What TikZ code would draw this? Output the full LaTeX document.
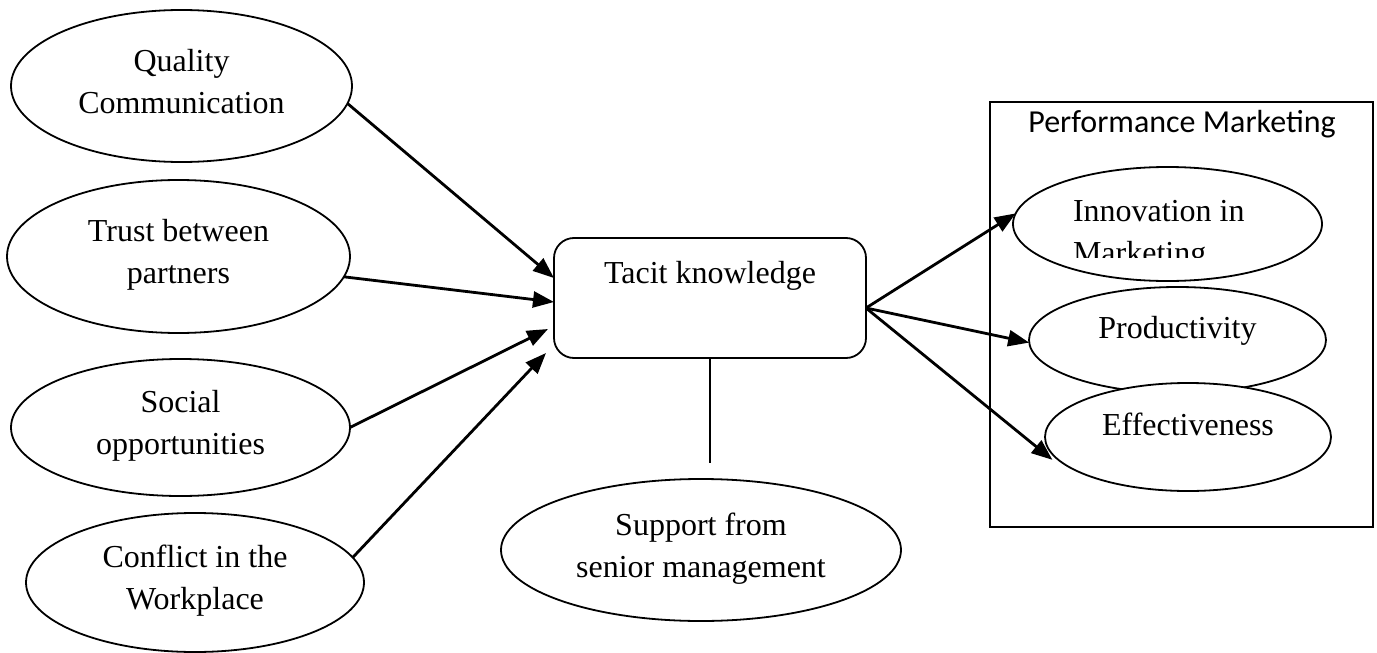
\documentclass[tikz,border=0pt]{standalone}
\usepackage{fontspec}
\setmainfont{Liberation Serif}
\newfontfamily\calibfont{Carlito}
\usetikzlibrary{arrows.meta,shapes.geometric}
\begin{document}
\begin{tikzpicture}[x=1pt,y=-1pt,
  every node/.style={font=\fontsize{32}{42}\selectfont, inner sep=0pt, outer sep=0pt},
  oval/.style={ellipse, draw, line width=1.8pt, fill=white, align=center},
  twoline/.style={text height=64pt, text depth=10pt},
  oneline/.style={text height=22pt, text depth=26pt},
  arr/.style={line width=2.8pt, -{Triangle[length=21pt,width=16pt]}},
  ]
\useasboundingbox (0,0) rectangle (1377,653);

% left factors
\node[oval, twoline, minimum width=341pt, minimum height=152pt] (qc) at (181.5,86) {Quality\\Communication};
\node[oval, twoline, minimum width=343pt, minimum height=153pt] (tr) at (178.5,256.5) {Trust between\\partners};
\node[oval, twoline, minimum width=339pt, minimum height=137pt] (so) at (180.5,427.5) {Social\\opportunities};
\node[oval, twoline, minimum width=338pt, minimum height=139pt] (co) at (195,582.5) {Conflict in the\\Workplace};

% centre
\node[draw, line width=1.8pt, rounded corners=20pt, minimum width=312pt, minimum height=120pt, text height=22pt, text depth=52pt] (tk) at (710,298) {Tacit knowledge};
\node[oval, twoline, minimum width=400pt, minimum height=142pt] (su) at (701,550) {Support from\\senior management};
\coordinate (supline) at (710,463);
\draw[line width=2.4pt] (tk.south) -- (supline);

% right box
\node[draw, line width=2.8pt, minimum width=383pt, minimum height=425pt] (pm) at (1181.5,314.5) {};
\node[font=\calibfont\fontsize{32}{42}\selectfont, anchor=base] (pmt) at (1182,132) {Performance Marketing};

\node[oval, minimum width=309pt, minimum height=114pt] (inn) at (1167.5,224) {};
\begin{scope}
  \clip (1000,150) rectangle (1340,257);
  \node[anchor=base west] (inn1) at (1073,221) {Innovation in};
  \node[anchor=base west] (inn2) at (1073,263) {Marketing};
\end{scope}
\node[oval, oneline, minimum width=297pt, minimum height=106pt] (prod) at (1177.5,340) {Productivity};
\node[oval, oneline, minimum width=286pt, minimum height=108pt] (eff) at (1188,437) {Effectiveness};

% arrows
\draw[arr] (qc.-6.5) -- ([yshift=20pt]tk.west);
\draw[arr] (tr.-7.7) -- ([yshift=-4pt]tk.west);
\draw[arr] (so.0) -- ([xshift=-6pt,yshift=-31pt]tk.west);
\draw[arr] (co.9) -- ([xshift=-8pt,yshift=-55pt]tk.west);
\draw[arr] ([yshift=-10pt]tk.east) -- (inn.176);
\draw[arr] ([yshift=-10pt]tk.east) -- (prod.181);
\draw[arr] ([yshift=-10pt]tk.east) -- ([xshift=-6pt]eff.190);
\end{tikzpicture}
\end{document}
